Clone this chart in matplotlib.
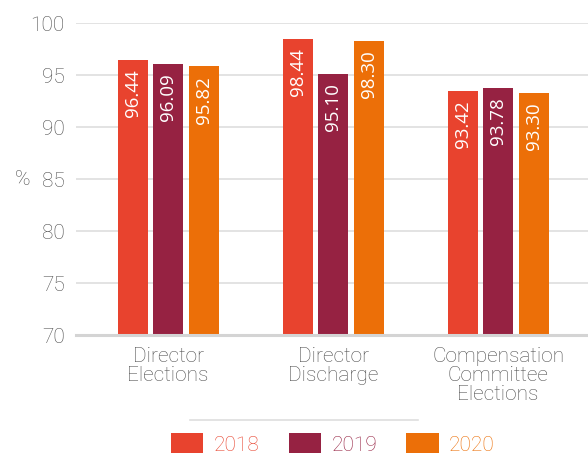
import matplotlib.pyplot as plt
import matplotlib.lines as mlines
import numpy as np

# --- Data ---
categories = ['Director\nElections', 'Director\nDischarge', 'Compensation\nCommittee\nElections']
years = ['2018', '2019', '2020']
values_2018 = [96.44, 98.44, 93.42]
values_2019 = [96.09, 95.10, 93.78]
values_2020 = [95.82, 98.30, 93.30]

COLORS = ['#E8432E', '#962242', '#EC6F08']
GREY = '#4d4d4d'
FONT = 'Roboto'
WEIGHT = 'light'
LABEL_FONT = 'Open Sans'

fig = plt.figure(figsize=(5.88, 4.56), dpi=100)
ax = fig.add_axes([76 / 588, 1 - 336 / 456, 1 - 76 / 588, (336 - 24) / 456])

x = np.arange(len(categories))
width = 0.182
step = 0.215
series = [values_2018, values_2019, values_2020]

for i, (vals, color, year) in enumerate(zip(series, COLORS, years)):
    bars = ax.bar(x + (i - 1) * step, vals, width, bottom=0, color=color, label=year, zorder=3)
    for b, v in zip(bars, vals):
        ax.annotate(f'{v:.2f}', (b.get_x() + b.get_width() / 2, v),
                    xytext=(0, -6), textcoords='offset points',
                    rotation=90, ha='center', va='top', color='white',
                    fontsize=13.5, family=LABEL_FONT, zorder=4)

ax.set_ylim(70, 100)
ax.set_xlim(-0.558, 2.545)
ax.set_yticks(np.arange(70, 101, 5))
ax.set_xticks(x)
ax.set_xticklabels(categories, fontsize=15, color=GREY, family=FONT,
                   fontweight=WEIGHT, linespacing=1.0)
for lbl in ax.get_yticklabels():
    lbl.set_fontsize(15)
    lbl.set_color(GREY)
    lbl.set_family(FONT)
    lbl.set_fontweight(WEIGHT)
ax.tick_params(axis='both', length=0)
ax.tick_params(axis='y', pad=8)
ax.tick_params(axis='x', pad=8)

ax.set_ylabel('%', rotation=0, fontsize=15, color=GREY, family=FONT,
              fontweight=WEIGHT, va='center')
ax.yaxis.set_label_coords(-0.105, 0.5)

ax.grid(axis='y', color='#dedede', linewidth=1.2, zorder=0)
for s in ['top', 'right', 'left']:
    ax.spines[s].set_visible(False)
ax.spines['bottom'].set_color('#d4d4d4')
ax.spines['bottom'].set_linewidth(2.2)
ax.spines['bottom'].set_zorder(5)

# separator above legend
fig.add_artist(mlines.Line2D([190 / 588, 418 / 588], [1 - 421 / 456] * 2,
                             color='#dedede', linewidth=1.2))

leg = fig.legend(loc='center', bbox_to_anchor=(333 / 588, 1 - 444.5 / 456), ncol=3,
                 frameon=False, handlelength=1.55, handleheight=1.1,
                 columnspacing=1.4, handletextpad=0.5,
                 prop={'family': FONT, 'size': 15, 'weight': WEIGHT})
for txt, color in zip(leg.get_texts(), COLORS):
    txt.set_color(color)

fig.savefig('out.png', dpi=100)
